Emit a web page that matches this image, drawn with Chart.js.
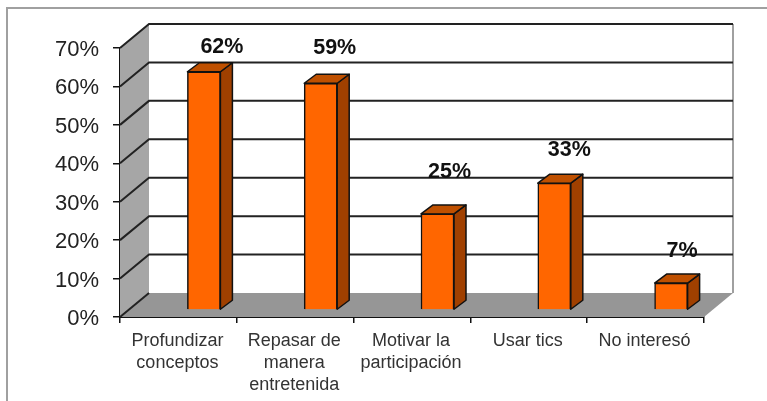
<!DOCTYPE html>
<html>
<head>
<meta charset="utf-8">
<script src="https://cdn.jsdelivr.net/npm/chart.js@4"></script>
<style>
  html, body { margin: 0; padding: 0; background: #fff; overflow: hidden; }
  #frame { position: absolute; left: 6px; top: 7px; width: 800px; height: 420px; border: 2px solid #a0a0a0; box-sizing: border-box; }
  canvas { position: absolute; left: 0; top: 0; }
</style>
</head>
<body>
<div id="frame"></div>
<canvas id="survey-chart" width="767" height="401"></canvas>
<script>
const categories = [
  ["Profundizar", "conceptos"],
  ["Repasar de", "manera", "entretenida"],
  ["Motivar la", "participación"],
  "Usar tics",
  "No interesó",
];
const values = [62, 59, 25, 33, 7];
const yTicks = [0, 10, 20, 30, 40, 50, 60, 70];

// manual nudges for the value labels, they are not centred in the original
const labelNudgeX = [18, 14, 12, 15, 11];
const labelNudgeY = [-32, -42, -49, -40, -39];

const wallDX = 29, wallDY = 24; // depth of the 3d box
const barDX = 12, barDY = 9;    // depth of each bar
const barShiftX = 25.5, barShiftY = 7; // bars stand in the middle of the floor

const box3d = {
  id: "box3d",
  beforeDatasetsDraw(chart) {
    const { ctx, chartArea: a, scales: { y } } = chart;
    ctx.save();
    // left wall
    ctx.fillStyle = "#a6a6a6";
    ctx.beginPath();
    ctx.moveTo(a.left, a.bottom);
    ctx.lineTo(a.left, a.top);
    ctx.lineTo(a.left + wallDX, a.top - wallDY);
    ctx.lineTo(a.left + wallDX, a.bottom - wallDY);
    ctx.closePath();
    ctx.fill();
    // floor
    ctx.fillStyle = "#969696";
    ctx.beginPath();
    ctx.moveTo(a.left, a.bottom);
    ctx.lineTo(a.right, a.bottom);
    ctx.lineTo(a.right + wallDX, a.bottom - wallDY);
    ctx.lineTo(a.left + wallDX, a.bottom - wallDY);
    ctx.closePath();
    ctx.fill();
    // back wall right edge
    ctx.strokeStyle = "#a0a0a0";
    ctx.lineWidth = 2;
    ctx.beginPath();
    ctx.moveTo(a.right + wallDX, a.top - wallDY);
    ctx.lineTo(a.right + wallDX, a.bottom - wallDY);
    ctx.stroke();
    // gridlines wrap round wall and back
    ctx.strokeStyle = "#222";
    ctx.lineWidth = 2;
    yTicks.forEach((t) => {
      const py = y.getPixelForValue(t);
      ctx.beginPath();
      ctx.moveTo(a.left, py);
      ctx.lineTo(a.left + wallDX, py - wallDY);
      if (t > 0) ctx.lineTo(a.right + wallDX, py - wallDY);
      ctx.stroke();
    });
    // bar sides and tops, the fronts come from chart.js
    const bars = chart.getDatasetMeta(0).data;
    ctx.strokeStyle = "#111";
    ctx.lineWidth = 1.5;
    ctx.lineJoin = "round";
    bars.forEach((bar) => {
      const p = bar.getProps(["x", "y", "base", "width"], true);
      const l = p.x - p.width / 2 + barShiftX;
      const r = p.x + p.width / 2 + barShiftX;
      const top = p.y - barShiftY;
      const base = p.base - barShiftY;
      ctx.fillStyle = "#a04000";
      ctx.beginPath();
      ctx.moveTo(r, top);
      ctx.lineTo(r + barDX, top - barDY);
      ctx.lineTo(r + barDX, base - barDY);
      ctx.lineTo(r, base);
      ctx.closePath();
      ctx.fill();
      ctx.stroke();
      ctx.fillStyle = "#bf5000";
      ctx.beginPath();
      ctx.moveTo(l, top);
      ctx.lineTo(l + barDX, top - barDY);
      ctx.lineTo(r + barDX, top - barDY);
      ctx.lineTo(r, top);
      ctx.closePath();
      ctx.fill();
      ctx.stroke();
    });
    ctx.restore();
    // shift the fronts, restored in afterDatasetsDraw
    ctx.save();
    ctx.translate(barShiftX, -barShiftY);
  },
  afterDatasetsDraw(chart) {
    const { ctx } = chart;
    ctx.restore();
    ctx.save();
    ctx.fillStyle = "#111";
    ctx.font = "bold 21.5px 'Liberation Sans'";
    ctx.textAlign = "center";
    ctx.textBaseline = "middle";
    chart.getDatasetMeta(0).data.forEach((bar, i) => {
      const p = bar.getProps(["x", "y"], true);
      ctx.fillText(values[i] + "%", p.x + barShiftX + labelNudgeX[i], p.y + labelNudgeY[i]);
    });
    ctx.restore();
  },
};

new Chart(document.getElementById("survey-chart"), {
  type: "bar",
  data: {
    labels: categories,
    datasets: [
      {
        data: values,
        backgroundColor: "#ff6600",
        borderColor: "#111",
        borderWidth: 1.5,
        barThickness: 33,
      },
    ],
  },
  options: {
    responsive: false,
    animation: false,
    layout: { padding: { top: 48, right: 63 } },
    plugins: { legend: { display: false }, tooltip: { enabled: false } },
    scales: {
      x: {
        afterFit: (s) => { s.height = 84; },
        grid: { drawOnChartArea: false, color: "#111", tickLength: 6, lineWidth: 1.5 },
        border: { color: "#111", width: 2 },
        ticks: { color: "#333", maxRotation: 0, autoSkip: false, padding: 7, labelOffset: -1, font: { family: "'Liberation Sans'", size: 18, lineHeight: 1.22 } },
      },
      y: {
        min: 0,
        max: 70,
        afterFit: (s) => { s.width = 120; },
        afterBuildTicks: (s) => { s.ticks = yTicks.map((v) => ({ value: v })); },
        grid: { drawOnChartArea: false, color: "#111", tickLength: 7, lineWidth: 1.5 },
        border: { color: "#111", width: 1.5 },
        ticks: { color: "#222", padding: 14, labelOffset: 2, font: { family: "'Liberation Sans'", size: 22 }, callback: (v) => v + "%" },
      },
    },
  },
  plugins: [box3d],
});
</script>
</body>
</html>
